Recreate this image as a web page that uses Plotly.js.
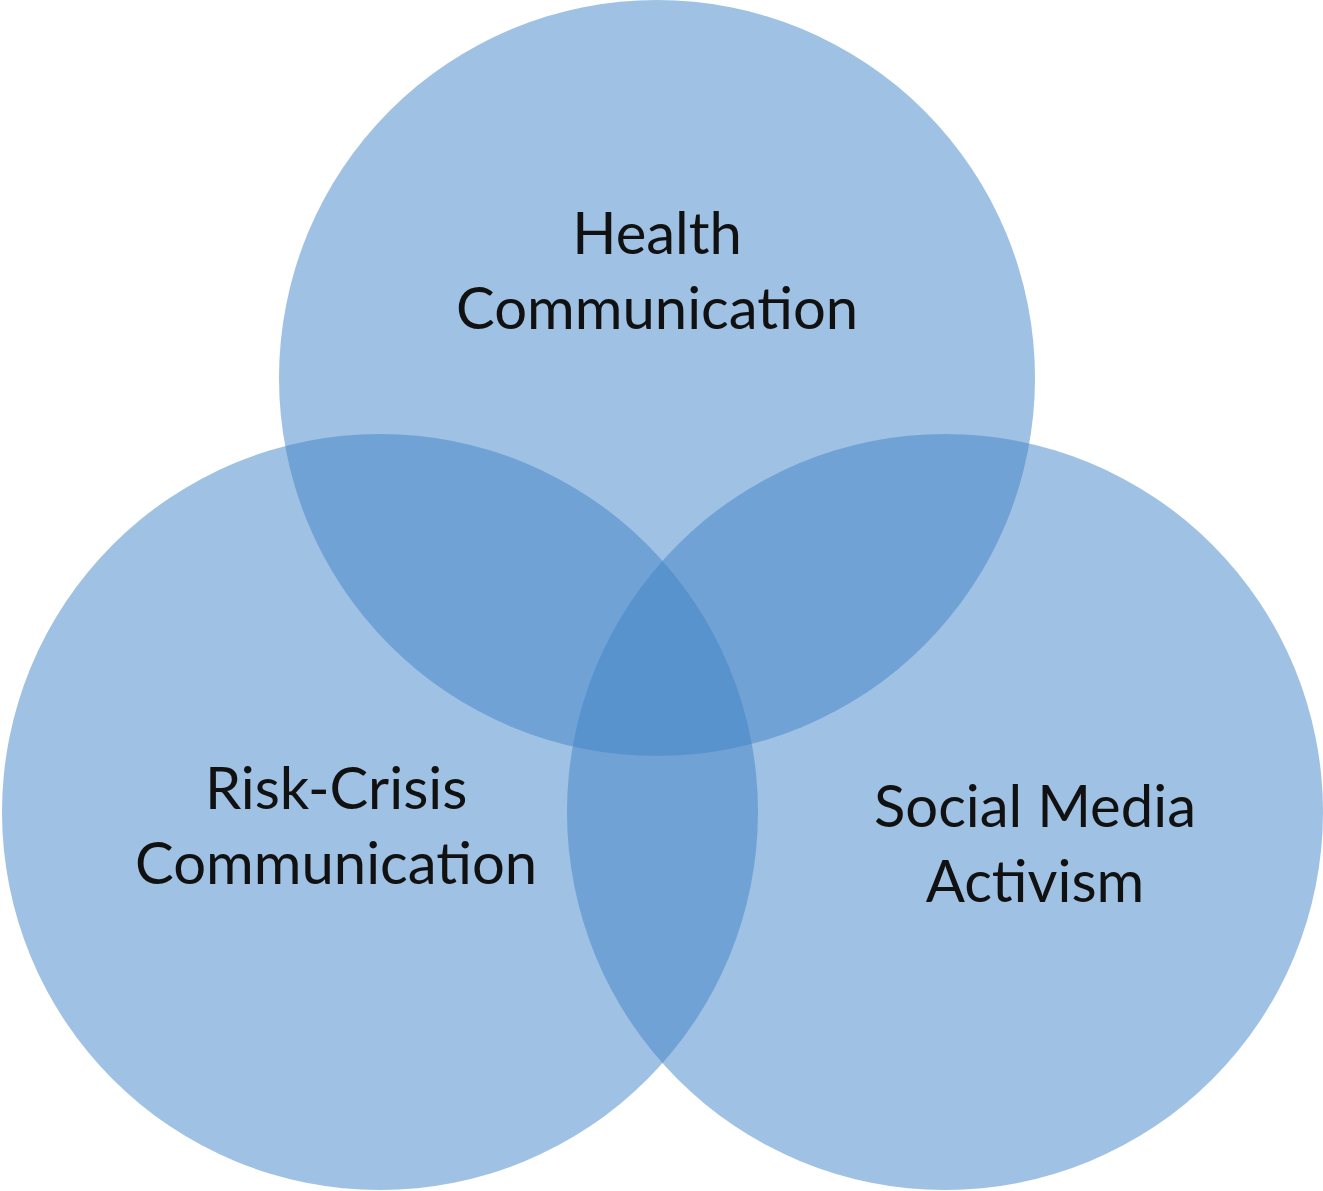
<html><head><script src="https://cdn.plot.ly/plotly-3.0.1.min.js"></script></head><body style="margin:0">
<div id="c" style="width:1323px;height:1191px"></div>
<script>
const labels=["Health<br>Communication","Risk-Crisis<br>Communication","Social Media<br>Activism"];
const cx=[657,380,945];
const cy=[378,812,812];
const radius=[378,378,378];
const labelX=[657,336,1035];
const labelY=[269,824,842];
const shapes=cx.map((x,i)=>({type:'circle',xref:'x',yref:'y',x0:x-radius[i],x1:x+radius[i],y0:cy[i]-radius[i],y1:cy[i]+radius[i],fillcolor:'rgba(67,133,200,0.51)',line:{width:0}}));
const annotations=labels.map((t,i)=>({x:labelX[i],y:labelY[i],text:t,showarrow:false,font:{family:'Lato, Noto Sans',size:58,color:'#111'},align:'center'}));
Plotly.newPlot('c',[{x:[0],y:[0],mode:'markers',marker:{opacity:0},hoverinfo:'skip'}],{
width:1323,height:1191,margin:{l:0,r:0,t:0,b:0},showlegend:false,paper_bgcolor:'#fff',plot_bgcolor:'#fff',
xaxis:{range:[0,1323],visible:false},yaxis:{range:[1191,0],visible:false},shapes,annotations},{displayModeBar:false});
</script></body></html>
